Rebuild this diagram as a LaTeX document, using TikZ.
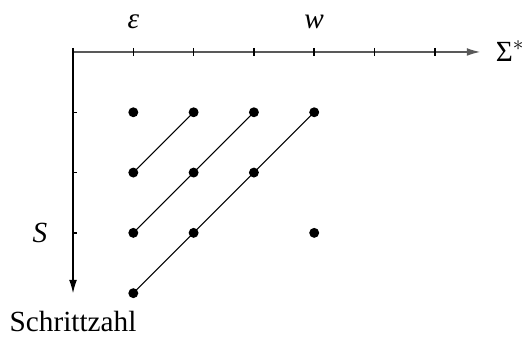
\documentclass[tikz,border=0pt]{standalone}
\usepackage{fontspec}
\setmainfont{Liberation Serif}
\usepackage{tikz}
\usetikzlibrary{arrows.meta}

\begin{document}
\begin{tikzpicture}[font=\fontsize{13.8}{16}\selectfont, >={Latex[length=2.2mm,width=1.3mm]}]
  \useasboundingbox (-1.211,0.862) rectangle (7.496,-4.743);
  % axes
  \coordinate (o) at (0,0);
  \coordinate (xend) at (6.75,0);
  \coordinate (yend) at (0,-4.0);
  \draw[->, black!65, line width=0.5pt] (o) -- (xend);
  \draw[->, line width=0.5pt] (o) -- (yend);
  \foreach \x in {0,1,...,6} \draw[line width=0.7pt] (\x,0.07) -- (\x,-0.07);
  \foreach \y in {1,2,3} \draw[line width=0.7pt] (0,-\y) -- (0.07,-\y);
  \node (sigma) at (7.25,0.02) {Σ$^*$};
  \node (eps) at (1,0.5) {\textit{ε}};
  \node (wrd) at (4,0.5) {\textit{w}};
  \node (S) at (-0.55,-3) {\textit{S}};
  \node (steps) at (0,-4.47) {Schrittzahl};

  % reachable configurations
  \tikzstyle{pt}=[circle, fill=black, inner sep=0pt, minimum size=1.65mm]
  \node[pt] (a1) at (1,-1) {};
  \node[pt] (b1) at (2,-1) {};
  \node[pt] (c1) at (3,-1) {};
  \node[pt] (d1) at (4,-1) {};
  \node[pt] (a2) at (1,-2) {};
  \node[pt] (b2) at (2,-2) {};
  \node[pt] (c2) at (3,-2) {};
  \node[pt] (a3) at (1,-3) {};
  \node[pt] (b3) at (2,-3) {};
  \node[pt] (d3) at (4,-3) {};
  \node[pt] (a4) at (1,-4) {};

  % diagonals
  \draw[line width=0.5pt] (a2.center) -- (b1.center);
  \draw[line width=0.5pt] (a3.center) -- (b2.center) -- (c1.center);
  \draw[line width=0.5pt] (a4.center) -- (b3.center) -- (c2.center) -- (d1.center);
\end{tikzpicture}
\end{document}
